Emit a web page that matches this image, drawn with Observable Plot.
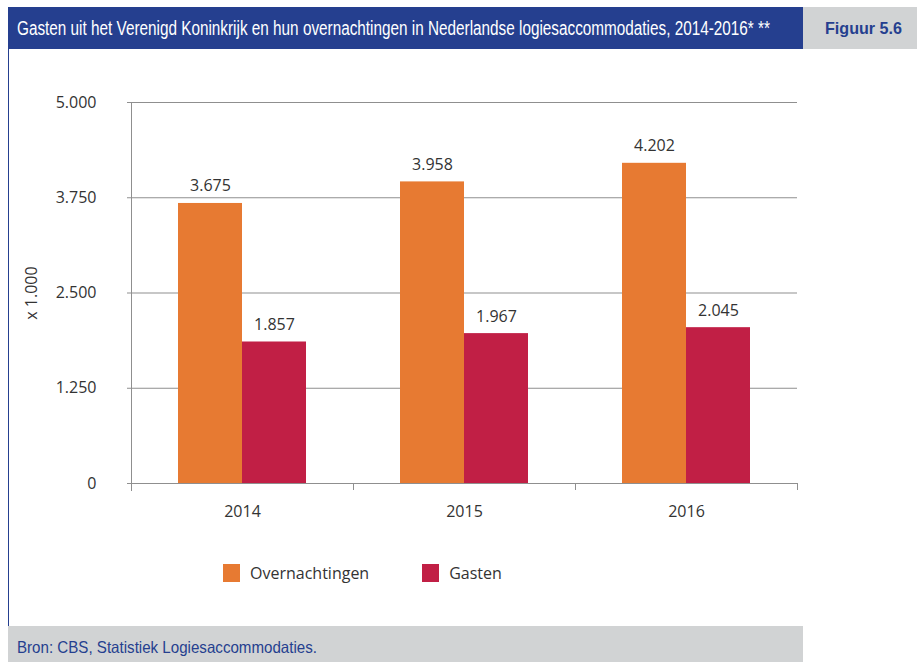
<!DOCTYPE html>
<html><head><meta charset="utf-8">
<script src="https://cdn.jsdelivr.net/npm/d3@7"></script>
<script src="https://cdn.jsdelivr.net/npm/@observablehq/plot@0.6"></script>
<style>
body{margin:0;background:#fff;width:917px;height:662px;position:relative;overflow:hidden;font-family:"Open Sans",sans-serif;}
.narrow{font-family:"Liberation Sans",Arial,sans-serif;}
.fit{display:inline-block;transform-origin:0 50%;white-space:nowrap;}
#title{position:absolute;left:8px;top:7px;width:795px;height:42px;background:#253f8f;color:#fff;font-size:19.5px;line-height:42px;white-space:nowrap;overflow:hidden;}
#title .fit{position:absolute;left:9px;top:0;}
#fig{position:absolute;left:803px;top:7px;width:114px;height:42px;background:#d1d3d4;color:#253f8f;font-weight:bold;font-size:16.5px;line-height:42px;}
#fig .fit{position:absolute;left:22px;top:0;}
#border{position:absolute;left:8px;top:49px;width:1.3px;height:613px;background:#253f8f;}
#footer{position:absolute;left:8px;top:626px;width:795px;height:36px;background:#d1d3d4;color:#253f8f;font-size:16.5px;line-height:42px;white-space:nowrap;overflow:hidden;}
#footer .fit{position:absolute;left:9px;top:0;}
#chart{position:absolute;left:0;top:48px;}
#legend{position:absolute;top:562px;left:223px;display:flex;align-items:center;font-size:16px;color:#333;}
#legend .item{display:flex;align-items:center;margin-right:53px;}
#legend .sw{width:17px;height:18px;margin-right:10px;}
</style></head>
<body>
<div id="title" class="narrow"><span class="fit" data-w="753">Gasten uit het Verenigd Koninkrijk en hun overnachtingen in Nederlandse logiesaccommodaties, 2014-2016* **</span></div>
<div id="fig" class="narrow"><span class="fit" data-w="77">Figuur 5.6</span></div>
<div id="border"></div>
<div id="chart"></div>
<div id="legend"></div>
<div id="footer" class="narrow"><span class="fit" data-w="300">Bron: CBS, Statistiek Logiesaccommodaties.</span></div>
<script>
const years = ["2014", "2015", "2016"];
const series = ["Overnachtingen", "Gasten"];
const overnachtingen = [3675, 3958, 4202];
const gasten = [1857, 1967, 2045];
const yTicks = [0, 1250, 2500, 3750, 5000];
const colors = ["#e77a32", "#c11f45"];
const yLabel = "x 1.000";

const data = years.flatMap((year, i) => [
  {year, series: series[0], value: overnachtingen[i]},
  {year, series: series[1], value: gasten[i]}
]);

const W = 917, H = 480, ML = 131, MR = 120, MT = 54, MB = 45;
const step = (W - ML - MR) / years.length;
const nl = d3.formatLocale({decimal: ",", thousands: ".", grouping: [3], currency: ["€", ""]});
const fmt = nl.format(",");
const gridColor = "#8f8f8f";

const plot = Plot.plot({
  width: W, height: H,
  marginLeft: ML, marginRight: MR, marginTop: MT, marginBottom: MB,
  style: {fontFamily: "Open Sans, sans-serif", fontSize: "16px", color: "#333", background: "transparent"},
  fx: {domain: years, padding: 0, label: null},
  x: {domain: series, paddingInner: 0, paddingOuter: 0.72, axis: null},
  y: {domain: [0, 5000]},
  color: {domain: series, range: colors},
  marks: [
    Plot.gridY(yTicks, {stroke: gridColor, strokeOpacity: 1}),
    Plot.axisY(yTicks, {tickFormat: fmt, tickSize: 4, tickPadding: 31, stroke: gridColor, fill: "#333",
      label: yLabel, labelArrow: "none", labelAnchor: "center", labelOffset: 106}),
    Plot.axisFx({anchor: "bottom", tickSize: 0, tickPadding: 22, label: null, fill: "#333"}),
    Plot.axisFx({anchor: "bottom", tickSize: 7, tickFormat: () => "", dx: step / 2, label: null, stroke: gridColor}),
    Plot.barY(data, {fx: "year", x: "series", y: "value", fill: "series"}),
    Plot.ruleY([0], {stroke: gridColor}),
    Plot.frame({anchor: "left", facetAnchor: "left", stroke: gridColor, insetBottom: -7}),
    Plot.text(data, {fx: "year", x: "series", y: "value", text: d => fmt(d.value), lineAnchor: "bottom", dy: -12, fill: "#333", fontSize: 16})
  ]
});
document.getElementById("chart").appendChild(plot);

const legend = document.getElementById("legend");
series.forEach((s, i) => {
  const item = document.createElement("div");
  item.className = "item";
  const sw = document.createElement("div");
  sw.className = "sw";
  sw.style.background = colors[i];
  const t = document.createElement("span");
  t.textContent = s;
  item.appendChild(sw);
  item.appendChild(t);
  legend.appendChild(item);
});

document.querySelectorAll(".fit").forEach(el => {
  const w = el.getBoundingClientRect().width;
  const target = +el.dataset.w;
  el.style.transform = `scaleX(${target / w})`;
});
</script>
</body></html>
